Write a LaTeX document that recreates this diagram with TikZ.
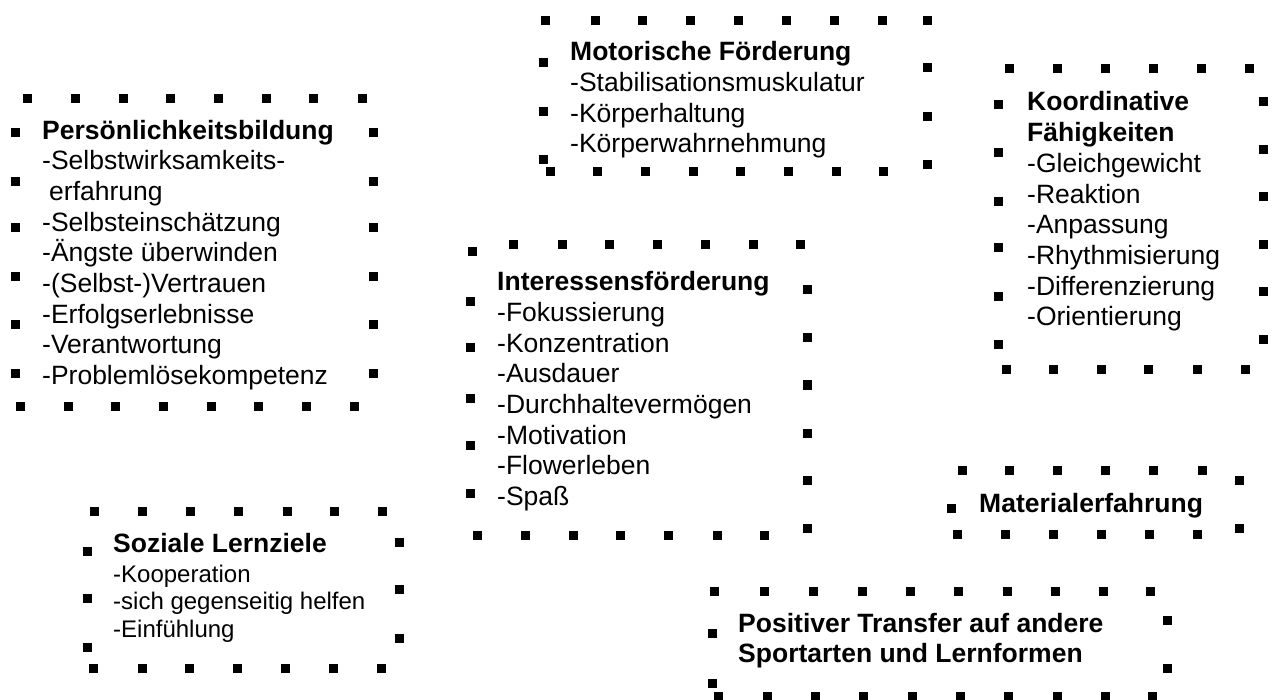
\documentclass[tikz,border=0pt]{standalone}
\usepackage{fontspec}
\setmainfont{Liberation Sans}
\newcommand{\dotsrow}[2]{\foreach \xx in {#2}{\fill ({\xx-4.5},{#1-4.5}) rectangle ++(9,9);}}
\newcommand{\dotscol}[2]{\foreach \yy in {#2}{\fill ({#1-4.5},{\yy-4.5}) rectangle ++(9,9);}}
\begin{document}
\begin{tikzpicture}[x=1pt,y=-1pt,
  txt/.style={anchor=base west, align=left, inner sep=0pt, font=\fontsize{26.5}{30.7}\selectfont},
  txtsmall/.style={anchor=base west, align=left, inner sep=0pt, font=\fontsize{24}{27.5}\selectfont}]
\useasboundingbox[fill=white] (0,0) rectangle (1274,700);

% Persoenlichkeitsbildung (node anchored at the baseline of its last line)
\dotsrow{99}{27,75,123,170,218,266,313,362}
\dotscol{15}{133,182,228,277,325,374}
\dotscol{373}{133,182,228,277,325,374}
\dotsrow{406}{20,68,115,163,211,258,306,354}
\node[txt] (pers) at (42,384.6) {\textbf{Persönlichkeitsbildung}\\-Selbstwirksamkeits-\\\hspace*{7pt}erfahrung\\-Selbsteinschätzung\\-Ängste überwinden\\-(Selbst-)Vertrauen\\-Erfolgserlebnisse\\-Verantwortung\\-Problemlösekompetenz};

% Motorische Foerderung
\dotsrow{21}{545,595,642,690,738,786,834,882,927}
\dotscol{543}{63,112,160}
\dotscol{927}{68,117,165}
\dotsrow{172}{550,597,645,693,740,788,836,883}
\node[txt] (motor) at (570,153) {\textbf{Motorische Förderung}\\-Stabilisationsmuskulatur\\-Körperhaltung\\-Körperwahrnehmung};

% Koordinative Faehigkeiten
\dotsrow{69}{1009,1057,1105,1153,1201,1249}
\dotscol{998}{105,153,202,248,297,345}
\dotscol{1263}{102,150,197,245,292,340}
\dotsrow{370}{1006,1053,1101,1148,1197,1245}
\node[txt] (koord) at (1027,325.9) {\textbf{Koordinative}\\\textbf{Fähigkeiten}\\-Gleichgewicht\\-Reaktion\\-Anpassung\\-Rhythmisierung\\-Differenzierung\\-Orientierung};

% Interessensfoerderung
\dotsrow{245}{513,562,609,657,705,753,800}
\dotsrow{252}{472}
\dotscol{470}{302,348,398,445,493}
\dotscol{807}{290,338,385,433,480,528}
\dotsrow{535}{477,525,573,620,668,717,764}
\node[txt] (inter) at (497,505.5) {\textbf{Interessensförderung}\\-Fokussierung\\-Konzentration\\-Ausdauer\\-Durchhaltevermögen\\-Motivation\\-Flowerleben\\-Spaß};

% Soziale Lernziele
\dotsrow{511}{94,142,190,238,287,334,382}
\dotscol{87}{551,598,647}
\dotscol{399}{542,589,638}
\dotsrow{668}{93,142,189,237,285,333,381}
\node[txt] (soz) at (113,552) {\textbf{Soziale Lernziele}};
\node[txtsmall] (sozitems) at (113,637) {-Kooperation\\-sich gegenseitig helfen\\-Einfühlung};

% Materialerfahrung
\dotsrow{470}{962,1009,1057,1105,1153,1202}
\dotscol{951}{508}
\dotscol{1239}{480,528}
\dotsrow{534}{957,1005,1053,1101,1149,1197}
\node[txt] (mat) at (979,512) {\textbf{Materialerfahrung}};

% Positiver Transfer
\dotsrow{591}{714,764,813,862,910,958,1007,1055,1103,1150}
\dotscol{712}{633,683}
\dotscol{1167}{620,668}
\dotsrow{696}{718,767,815,863,912,960,1008,1057,1105,1152}
\node[txt] (trans) at (738,662.7) {\textbf{Positiver Transfer auf andere}\\\textbf{Sportarten und Lernformen}};
\end{tikzpicture}
\end{document}
